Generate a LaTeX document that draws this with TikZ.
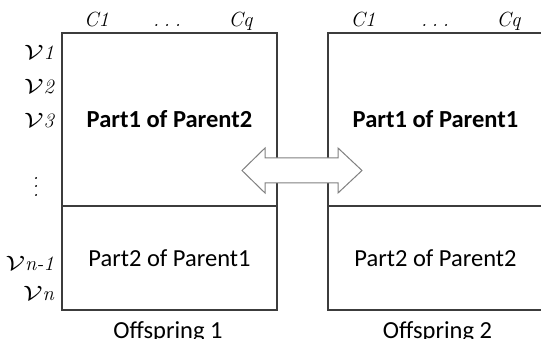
\documentclass[tikz,border=0pt]{standalone}
\usepackage{fontspec}
\usepackage{graphicx}
\usetikzlibrary{calc}
\newfontfamily\carlito{Carlito}
\definecolor{boxline}{HTML}{3C3C3C}
\definecolor{arrline}{HTML}{808080}
\newcommand{\scrV}{\scalebox{1.35}[1.0]{$\mathcal{V}$}}
\newcommand{\hdotsx}{.\kern4.7pt.\kern4.7pt.}
\begin{document}
\begin{tikzpicture}[x=1pt,y=-1pt,
  part/.style={draw=boxline,line width=1.3pt,rectangle,inner sep=0pt,minimum width=215pt,
    font=\carlito\fontsize{24.5}{28}\selectfont},
  toppart/.style={part,minimum height=173pt},
  botpart/.style={part,minimum height=104pt},
  lbl/.style={font=\fontsize{20.5}{23}\selectfont\itshape,inner sep=0pt},
  captxt/.style={font=\carlito\fontsize{24.5}{28}\selectfont,inner sep=0pt,anchor=base}]
\useasboundingbox (0,0) rectangle (541,339);
\clip (0,0) rectangle (541,339);
% Offspring 1
\node[toppart] (o1top) at (169.5,119.5) {\bfseries Part1 of Parent2};
\node[botpart] (o1bot) at (169.5,258) {Part2 of Parent1};
% Offspring 2
\node[toppart] (o2top) at (435.5,119.5) {\bfseries Part1 of Parent1};
\node[botpart] (o2bot) at (435.5,258) {Part2 of Parent2};
% column labels
\node[lbl,anchor=base] (c1a) at (96.5,27) {C1};
\node[lbl,anchor=base] (cda) at (167,27) {\hdotsx};
\node[lbl,anchor=base] (cqa) at (240.5,27) {Cq};
\node[lbl,anchor=base] (c1b) at (363,27) {C1};
\node[lbl,anchor=base] (cdb) at (435,27) {\hdotsx};
\node[lbl,anchor=base] (cqb) at (508.5,27) {Cq};
% row labels
\node[lbl,anchor=base east] (v1) at (54,60) {\scrV1};
\node[lbl,anchor=base east] (v2) at (54,94) {\scrV2};
\node[lbl,anchor=base east] (v3) at (54,128) {\scrV3};
\node[lbl] (vd) at (36,187) {\vbox{\baselineskip=8.5pt\hbox{.}\hbox{.}\hbox{.}}};
\node[lbl,anchor=base east] (vn1) at (54,270) {\scrV n-1};
\node[lbl,anchor=base east] (vn) at (54,301) {\scrV n};
% captions
\node[captxt] (off1) at (168,338) {Offspring 1};
\node[captxt] (off2) at (437.5,338) {Offspring 2};
% exchange arrow
\coordinate (xc) at (302,170.5);
\draw[draw=arrline,fill=white,line width=1pt]
  ($(xc)+(-60,0)$) -- ($(xc)+(-37,-22.5)$) -- ($(xc)+(-37,-12.5)$) -- ($(xc)+(36,-12.5)$)
  -- ($(xc)+(36,-22.5)$) -- ($(xc)+(60,0)$) -- ($(xc)+(36,22.5)$) -- ($(xc)+(36,12.5)$)
  -- ($(xc)+(-37,12.5)$) -- ($(xc)+(-37,22.5)$) -- cycle;
\end{tikzpicture}
\end{document}
